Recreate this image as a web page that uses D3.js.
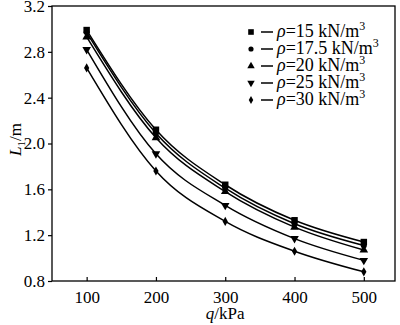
<!DOCTYPE html>
<html>
<head>
<meta charset="utf-8">
<script src="https://cdn.jsdelivr.net/npm/d3@7"></script>
</head>
<body style="margin:0; background:#fff">
<div id="vis"></div>
<script>
// frame constants
const FRAME_WIDTH = 400;
const FRAME_HEIGHT = 325;
const MARGINS = {left: 52, right: 5, top: 6, bottom: 44};
const VIS_WIDTH = FRAME_WIDTH - MARGINS.left - MARGINS.right;
const VIS_HEIGHT = FRAME_HEIGHT - MARGINS.top - MARGINS.bottom;
const SERIF = "Liberation Serif";

// data
const Q = [100, 200, 300, 400, 500];
const RHO = ["15", "17.5", "20", "25", "30"];
const L15 = [2.99, 2.12, 1.64, 1.33, 1.14];
const L175 = [2.97, 2.09, 1.61, 1.30, 1.11];
const L20 = [2.93, 2.05, 1.58, 1.27, 1.07];
const L25 = [2.82, 1.91, 1.46, 1.17, 0.98];
const L30 = [2.66, 1.76, 1.32, 1.06, 0.88];
const SERIES = [L15, L175, L20, L25, L30];
const SYMBOLS = [d3.symbolSquare, d3.symbolCircle, d3.symbolTriangle, d3.symbolTriangle, d3.symbolDiamond];
const SIZES = [42, 28, 32, 32, 24];
const ROTATE = [0, 0, 0, 180, 0];
const X_TICKS = [100, 200, 300, 400, 500];
const Y_TICKS = [0.8, 1.2, 1.6, 2.0, 2.4, 2.8, 3.2];

const FRAME = d3.select("#vis")
  .append("svg")
    .attr("width", FRAME_WIDTH)
    .attr("height", FRAME_HEIGHT)
    .style("display", "block")
    .style("font-family", SERIF);

const X_SCALE = d3.scaleLinear().domain([50, 545]).range([0, VIS_WIDTH]);
const Y_SCALE = d3.scaleLinear().domain([0.8, 3.2]).range([VIS_HEIGHT, 0]);

const plot = FRAME.append("g")
  .attr("transform", "translate(" + MARGINS.left + "," + MARGINS.top + ")");

// frame box
plot.append("rect")
  .attr("x", 0).attr("y", 0)
  .attr("width", VIS_WIDTH).attr("height", VIS_HEIGHT)
  .attr("fill", "none").attr("stroke", "#000").attr("stroke-width", 1.3);

// x axis, ticks pointing inward
const xAxis = plot.append("g")
  .call(d3.axisBottom(X_SCALE).tickValues(X_TICKS).tickSizeInner(-4).tickSizeOuter(0).tickPadding(10))
  .attr("transform", "translate(0," + VIS_HEIGHT + ")");
xAxis.select(".domain").remove();
xAxis.selectAll("line").attr("stroke-width", 1.2);
xAxis.selectAll("text").style("font-family", SERIF).style("font-size", "17px").attr("fill", "#000");

// y axis, ticks pointing out
const yAxis = plot.append("g")
  .call(d3.axisLeft(Y_SCALE).tickValues(Y_TICKS).tickFormat(d3.format(".1f")).tickSizeInner(4).tickSizeOuter(0).tickPadding(3));
yAxis.select(".domain").remove();
yAxis.selectAll("line").attr("stroke-width", 1.2);
yAxis.selectAll("text").style("font-family", SERIF).style("font-size", "17px").attr("fill", "#000");

// curves
const line = d3.line()
  .x((d, i) => X_SCALE(Q[i]))
  .y((d) => Y_SCALE(d))
  .curve(d3.curveMonotoneX);

SERIES.forEach((vals, s) => {
  plot.append("path")
    .datum(vals)
    .attr("d", line)
    .attr("fill", "none")
    .attr("stroke", "#000")
    .attr("stroke-width", 1.5);

  plot.selectAll(".m" + s)
    .data(vals)
    .enter()
    .append("path")
      .attr("class", "m" + s)
      .attr("d", d3.symbol().type(SYMBOLS[s]).size(SIZES[s]))
      .attr("transform", (d, i) => "translate(" + X_SCALE(Q[i]) + "," + Y_SCALE(d) + ") rotate(" + ROTATE[s] + ")")
      .attr("fill", "#000");
});

// legend
const legend = FRAME.append("g");
RHO.forEach((r, i) => {
  const y = 32 + i * 17;
  legend.append("path")
    .attr("d", d3.symbol().type(SYMBOLS[i]).size(SIZES[i] * 0.75))
    .attr("transform", "translate(251," + y + ") rotate(" + ROTATE[i] + ")")
    .attr("fill", "#000");
  legend.append("line")
    .attr("x1", 261).attr("x2", 273)
    .attr("y1", y).attr("y2", y)
    .attr("stroke", "#000").attr("stroke-width", 1.5);
  const t = legend.append("text")
    .attr("x", 277).attr("y", y + 5)
    .style("font-family", SERIF).style("font-size", "18px");
  t.append("tspan").attr("font-style", "italic").text("ρ");
  t.append("tspan").text("=" + r + " kN/m");
  t.append("tspan").attr("dy", -7).style("font-size", "12px").text("3");
});

// axis titles
const xt = FRAME.append("text")
  .attr("x", MARGINS.left + X_SCALE(300))
  .attr("y", 319)
  .attr("text-anchor", "middle")
  .style("font-family", SERIF).style("font-size", "17px");
xt.append("tspan").attr("font-style", "italic").text("q");
xt.append("tspan").text("/kPa");

const yt = FRAME.append("text")
  .attr("transform", "translate(21," + (MARGINS.top + Y_SCALE(2.0) - 4) + ") rotate(-90)")
  .attr("text-anchor", "middle")
  .style("font-family", SERIF).style("font-size", "17px");
yt.append("tspan").attr("font-style", "italic").text("L");
yt.append("tspan").attr("dy", 4).style("font-size", "11px").text("1");
yt.append("tspan").attr("dy", -4).text("/m");
</script>
</body>
</html>
